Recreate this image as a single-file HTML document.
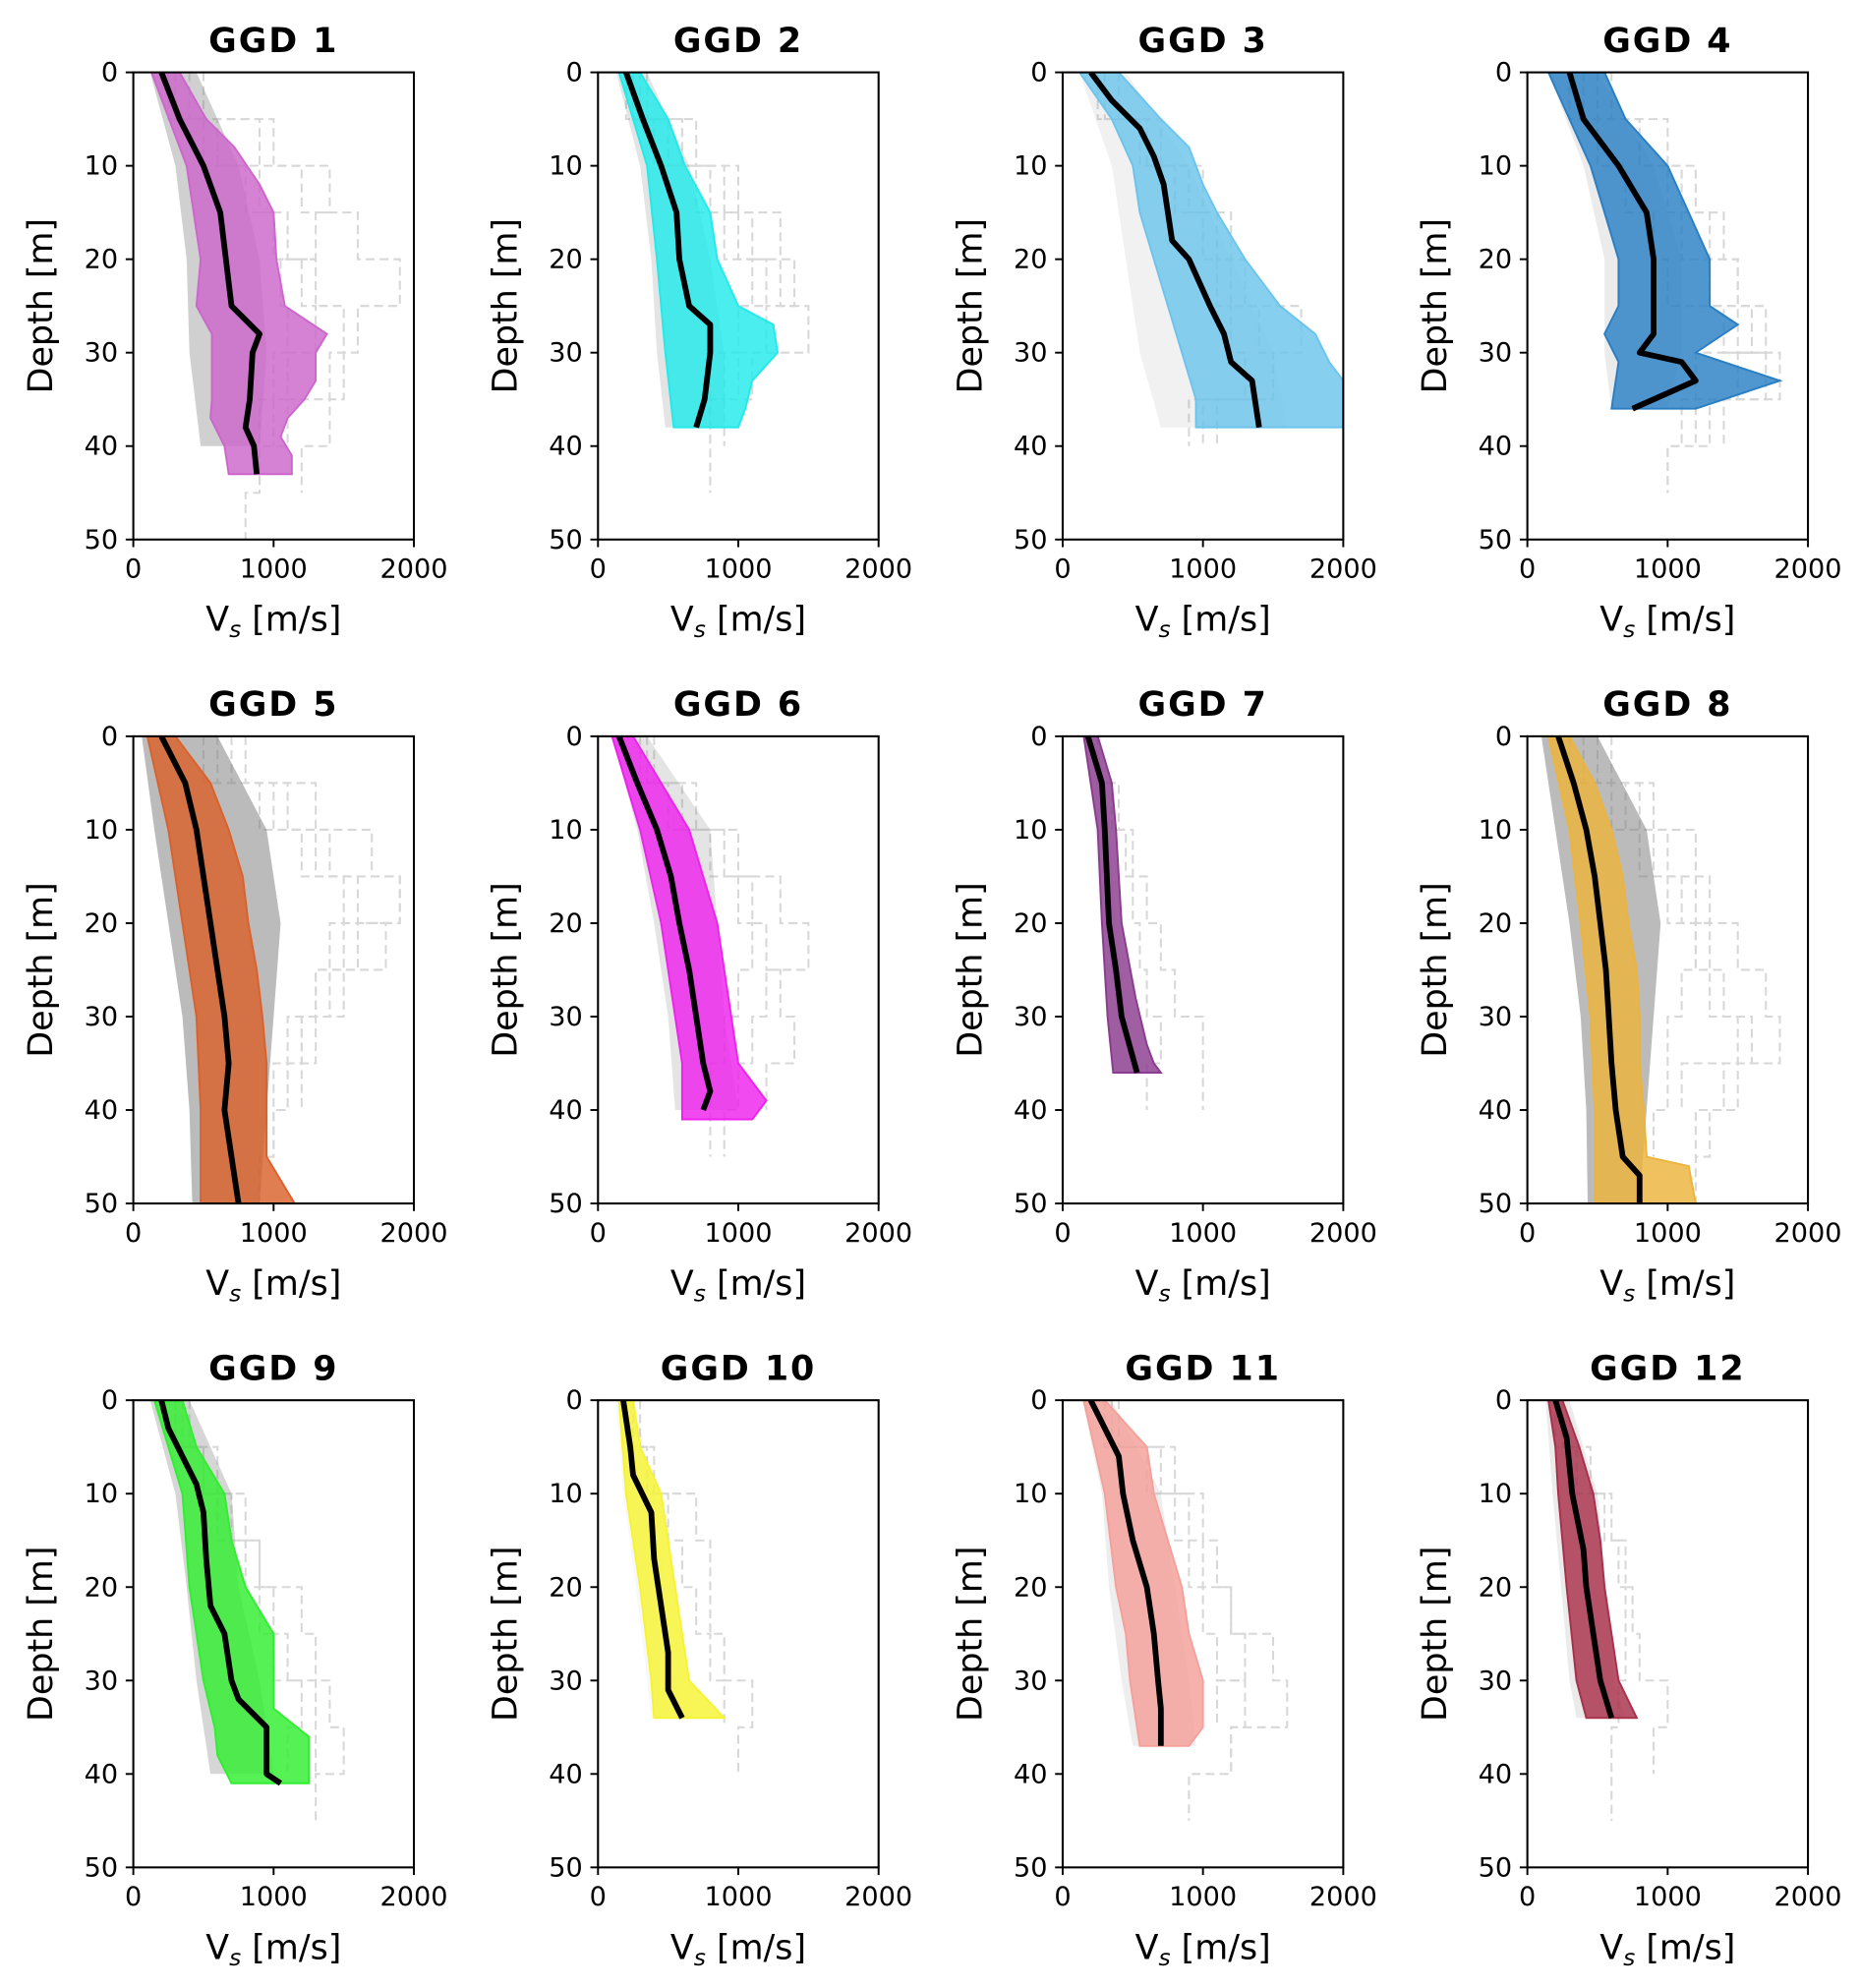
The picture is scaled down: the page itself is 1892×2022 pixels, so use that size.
<!DOCTYPE html>
<html><head><meta charset="utf-8"><title>GGD Vs profiles</title>
<style>
html,body{margin:0;padding:0;background:#fff;}
svg{display:block;}
text{font-family:"DejaVu Sans","Liberation Sans",sans-serif;fill:#000;}
</style></head>
<body>
<svg id="chart" width="1892" height="2022" viewBox="0 0 1465 1566" preserveAspectRatio="none" xmlns="http://www.w3.org/2000/svg"></svg>
<script>
// ---- data (depth in m, Vs in m/s) ----
const panelTitles = ["GGD  1","GGD  2","GGD  3","GGD  4","GGD  5","GGD  6","GGD  7","GGD  8","GGD  9","GGD 10","GGD 11","GGD 12"];
const panelColors = ["#cc66cc","#22eaea","#6cc4ec","#2a7fc4","#d9622c","#ee22ee","#8a3c8e","#ecb43c","#30ee30","#f6f432","#f5a09a","#a8304a"];
const xTicks = [0,1000,2000];
const yTicks = [0,10,20,30,40,50];

const medianDepth = [
 [0,5,10,15,20,25,28,30,35,38,40,43],
 [0,5,10,15,20,25,27,30,35,38],
 [0,3,6,9,12,15,18,20,25,28,31,33,38],
 [0,5,10,15,20,25,28,30,31,33,35,36],
 [0,5,10,15,20,25,30,35,40,45,50],
 [0,5,10,15,20,25,30,35,38,40],
 [0,5,10,20,25,30,36],
 [0,5,10,15,20,25,30,35,40,45,47,50],
 [0,3,6,9,12,17,22,25,30,32,35,38,40,41],
 [0,5,8,12,17,22,27,31,34],
 [0,3,6,10,15,20,25,30,33,37],
 [0,4,10,16,20,25,30,33,34]];
const medianVs = [
 [200,330,500,620,660,700,900,850,830,800,860,880],
 [200,320,450,560,580,650,800,800,760,700],
 [200,350,550,650,720,750,780,900,1050,1150,1200,1350,1400],
 [300,400,650,850,900,900,900,800,1100,1200,900,750],
 [200,370,450,500,550,600,650,680,650,700,750],
 [150,280,420,520,580,650,700,750,800,750],
 [180,280,300,330,380,420,530],
 [220,330,420,480,520,560,580,600,630,680,800,800],
 [200,250,350,450,500,520,550,650,700,750,950,950,950,1050],
 [180,230,250,380,400,450,500,500,600],
 [200,300,400,430,500,600,650,680,700,700],
 [200,280,320,400,420,470,520,580,600]];

const lowerDepth = [
 [0,10,20,25,28,35,37,40,43],
 [0,10,20,30,38],
 [0,5,10,15,20,25,30,35,38],
 [0,10,20,25,28,31,36],
 [0,10,20,30,40,50],
 [0,10,20,30,35,41],
 [0,10,20,30,36],
 [0,10,20,30,40,50],
 [0,10,20,30,35,38,41],
 [0,10,20,30,34],
 [0,10,20,25,30,37],
 [0,5,10,20,30,34]];
const lowerVs = [
 [130,380,480,450,560,560,550,650,680],
 [150,350,420,480,540],
 [120,350,500,550,650,750,850,950,950],
 [150,450,650,650,550,650,600],
 [100,250,350,450,480,480],
 [100,300,450,550,600,600],
 [150,250,280,320,360],
 [150,300,380,450,480,480],
 [150,350,400,500,580,600,700],
 [150,200,300,380,400],
 [150,300,380,450,480,550],
 [150,200,220,280,350,420]];

const upperDepth = [
 [0,5,8,12,15,20,25,28,30,33,35,37,39,41,43],
 [0,5,10,15,20,25,27,30,33,36,38],
 [0,5,8,12,15,20,25,28,31,33,38],
 [0,5,10,15,20,25,27,30,33,36],
 [0,5,10,15,20,25,30,35,40,45,50],
 [0,5,10,15,20,25,30,35,39,41],
 [0,5,10,20,28,33,35,36],
 [0,5,10,15,20,25,30,35,40,45,46,50],
 [0,5,10,15,20,25,30,33,36,41],
 [0,5,10,15,20,25,30,34],
 [0,5,10,15,20,25,30,35,37],
 [0,5,10,15,20,25,30,34]];
const upperVs = [
 [330,520,720,900,1000,1020,1080,1380,1300,1300,1220,1100,1050,1130,1130],
 [300,500,620,800,850,1000,1250,1280,1100,1050,1000],
 [400,700,900,1000,1100,1300,1550,1800,1900,2000,2000],
 [550,700,1000,1150,1300,1300,1500,1200,1800,1200],
 [300,550,680,780,820,880,920,950,950,950,1150],
 [250,450,650,750,850,900,950,1000,1200,1100],
 [250,350,380,420,520,600,650,700],
 [300,480,600,680,720,780,800,800,830,850,1150,1200],
 [350,450,650,700,800,1000,1000,1000,1250,1250],
 [250,300,450,500,550,600,650,900],
 [300,600,650,750,850,900,1000,1000,900],
 [250,370,470,520,550,600,650,780]];

// dense dark-grey cloud of individual profiles (envelope)
const cloudDepth = [
 [0,10,20,30,40],
 [0,10,20,30,38],
 [0,10,20,30,38],
 [0,10,20,30,36],
 [0,10,20,30,40,50],
 [0,10,20,30,40],
 [0,10,20,30,36],
 [0,10,20,30,40,50],
 [0,10,20,30,40],
 [0,10,20,30,34],
 [0,10,20,30,37],
 [0,10,20,30,34]];
const cloudLo = [
 [120,300,380,400,480],[130,300,380,420,480],[120,350,450,550,700],[150,400,550,550,600],
 [60,150,250,350,400,420],[100,280,400,500,550],[150,230,270,310,350],[100,200,300,380,420,430],
 [120,300,380,450,550],[130,180,270,350,380],[140,280,330,420,500],[130,180,240,300,350]];
const cloudHi = [
 [450,750,900,950,900],[350,650,800,900,900],[450,900,1200,1500,1600],[500,900,1100,1100,1000],
 [600,950,1050,1000,950,900],[350,800,850,900,1000],[260,330,380,450,520],[500,850,950,900,850,800],
 [400,700,750,900,1000],[260,400,480,550,600],[350,700,800,900,950],[300,500,560,620,700]];
const cloudAlpha = [0.35,0.2,0.1,0.15,0.5,0.2,0.08,0.5,0.3,0.05,0.12,0.15];

// individual light-grey dashed step profiles: layer tops and Vs per layer
const stepDepth = [0,5,10,15,20,25,30,35,40,45];
const stepProfiles = [
 [[300,600,900,1100,1300,1500,1500,1400,1200],[400,900,1200,1600,1900,1600,1400,1100,900],[250,500,800,1000,1200,1300,1100,1000],[500,1000,1400,1300,1050,1100,1000,900,900,800]],
 [[250,500,900,1100,1300,1500,1100,900],[300,600,800,1000,1200,1000,900,800,800],[200,400,700,900,1100,1000,800,800],[350,700,1000,1300,1400,1200,1000]],
 [[300,600,900,1200,1300,1400,1500,1100],[400,700,1000,1100,1200,1700,1500,1000],[250,550,800,1000,1100,1200,1300,900]],
 [[500,800,1000,1100,1300,1500,1700,1300,1000],[600,1000,1200,1400,1500,1600,1500,1400],[300,500,700,900,1000,1400,1800,1200],[400,800,1100,1300,1500,1700,1200,1100,1000]],
 [[700,1100,1400,1600,1800,1500,1200,1100,1000],[600,900,1300,1900,1600,1400,1300,1200],[500,1000,1200,1500,1400,1300,1200,1100,1000,900],[800,1300,1700,1900,1500,1300,1100,1000]],
 [[400,700,1000,1300,1500,1200,1100,1000,900],[350,600,900,1100,1200,1300,1400,1200],[300,500,800,1000,1100,1000,900,800,800]],
 [[250,400,500,600,700,800,1000,1000],[250,350,450,500,550,600,700,600]],
 [[500,800,1000,1200,1300,1400,1600,1500,1300,1200],[400,700,900,1100,1500,1700,1800,1400,1200],[600,900,1200,1300,1200,1100,1000,1000,900],[300,600,800,1000,1200,1300,1500,1100]],
 [[400,600,800,900,1200,1300,1300,1300],[350,500,700,900,1000,1100,1400,1500,1300],[300,500,600,800,900,1000,1200,1100]],
 [[300,400,700,800,800,900,1100,1000],[250,350,500,600,700,800,900]],
 [[400,800,900,1000,1200,1500,1600,1200],[300,600,800,900,1000,1100,1300,1200,900],[350,700,1000,1100,1200,1300,1100]],
 [[250,450,600,700,750,800,1000,900],[200,350,550,650,700,700,650,600,600]]];

// ---- layout ----
const svg = document.getElementById('chart');
const NS = 'http://www.w3.org/2000/svg';
const colX = [105,471,837,1203], rowY = [57,580,1103];
const AW = 221, AH = 368, XMAX = 2000, YMAX = 50;

function mk(tag, attrs, parent){
  const e = document.createElementNS(NS, tag);
  for (const k in attrs) e.setAttribute(k, attrs[k]);
  parent.appendChild(e); return e;
}

panelTitles.forEach((title, p) => {
  const ox = colX[p % 4], oy = rowY[Math.floor(p / 4)];
  const sx = v => ox + Math.min(v, XMAX) / XMAX * AW;
  const sy = d => oy + d / YMAX * AH;
  const g = mk('g', {}, svg);
  
  

  const clip = mk('clipPath', {id: 'clip' + p}, g);
  mk('rect', {x: ox, y: oy, width: AW, height: AH}, clip);
  const plot = mk('g', {'clip-path': 'url(#clip' + p + ')'}, g);

  stepProfiles[p].forEach((prof) => {
    let d = '';
    prof.forEach((v, i) => {
      const d0 = stepDepth[i], d1 = stepDepth[i + 1] !== undefined ? stepDepth[i + 1] : d0 + 5;
      d += (i === 0 ? 'M' : 'L') + sx(v) + ',' + sy(d0) + 'L' + sx(v) + ',' + sy(d1);
    });
    const path = mk('path', {d: d, fill: 'none', stroke: '#d8d8d8', 'stroke-width': 1.6, 'stroke-dasharray': '7,4'}, plot);
    
    
  });

  const n = Math.min(cloudDepth[p].length, cloudLo[p].length, cloudHi[p].length);
  const cd = cloudDepth[p].slice(0, n);
  let cpts = cd.map((d, i) => sx(cloudLo[p][i]) + ',' + sy(d));
  cpts = cpts.concat(cd.map((d, i) => sx(cloudHi[p][i]) + ',' + sy(d)).reverse());
  const cloud = mk('polygon', {points: cpts.join(' '), fill: '#777', 'fill-opacity': cloudAlpha[p]}, plot);
  
  

  let bpts = lowerDepth[p].map((d, i) => sx(lowerVs[p][i]) + ',' + sy(d));
  bpts = bpts.concat(upperDepth[p].map((d, i) => sx(upperVs[p][i]) + ',' + sy(d)).reverse());
  const band = mk('polygon', {points: bpts.join(' '), fill: panelColors[p], 'fill-opacity': 0.82, stroke: panelColors[p], 'stroke-width': 1.5}, plot);
  
  

  const mpts = medianDepth[p].map((d, i) => sx(medianVs[p][i]) + ',' + sy(d)).join(' ');
  const med = mk('polyline', {points: mpts, fill: 'none', stroke: '#000', 'stroke-width': 4.5, 'stroke-linejoin': 'round'}, plot);
  
  

  const frame = mk('rect', {x: ox, y: oy, width: AW, height: AH, fill: 'none', stroke: '#000', 'stroke-width': 1.6}, g);
  
  

  xTicks.forEach(t => {
    mk('line', {x1: sx(t), x2: sx(t), y1: oy + AH, y2: oy + AH + 6, stroke: '#000', 'stroke-width': 1.5}, g);
    const tx = mk('text', {x: sx(t), y: oy + AH + 30, 'text-anchor': 'middle', 'font-size': 21}, g);
    tx.textContent = t;
    
    
  });
  yTicks.forEach(t => {
    mk('line', {x1: ox - 6, x2: ox, y1: sy(t), y2: sy(t), stroke: '#000', 'stroke-width': 1.5}, g);
    const ty = mk('text', {x: ox - 12, y: sy(t) + 7, 'text-anchor': 'end', 'font-size': 21}, g);
    ty.textContent = t;
    
    
  });

  const xl = mk('text', {x: ox + AW / 2, y: oy + AH + 72, 'text-anchor': 'middle', 'font-size': 27}, g);
  xl.innerHTML = 'V<tspan font-size="18" font-style="italic" dy="5">s</tspan><tspan dy="-5"> [m/s]</tspan>';
  
  
  const yl = mk('text', {x: 0, y: 0, 'text-anchor': 'middle', 'font-size': 27, transform: 'translate(' + (ox - 64) + ',' + (oy + AH / 2) + ') rotate(-90)'}, g);
  yl.textContent = 'Depth [m]';
  
  
  const tt = mk('text', {x: ox + AW / 2, y: oy - 16, 'text-anchor': 'middle', 'font-size': 27, 'font-weight': 'bold', 'letter-spacing': '1.5', 'xml:space': 'preserve'}, g);
  tt.textContent = title;
  
  
});
</script>
</body></html>
